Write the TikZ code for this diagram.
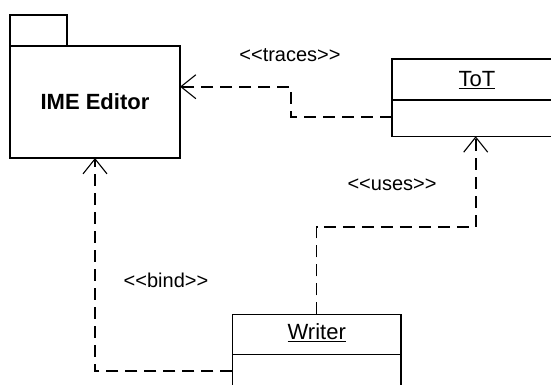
\documentclass[tikz,border=0pt]{standalone}
\usepackage{fontspec}
\setmainfont{Liberation Sans}
\usetikzlibrary{arrows.meta}
\begin{document}
\begin{tikzpicture}[x=1pt,y=-1pt,
  box/.style={draw, line width=1.6pt, inner sep=0pt, outer sep=0pt},
  dep/.style={line width=1.8pt, dash pattern=on 12pt off 7pt, -{Straight Barb[length=15pt,width=24pt,line width=1.1pt]}},
  lbl/.style={font=\fontsize{20}{24}\selectfont, inner sep=0pt},
  cname/.style={font=\fontsize{22}{26}\selectfont, inner sep=0pt}]
\useasboundingbox (0,0) rectangle (551,385);
\clip (0,0) rectangle (551,385);
% IME Editor package
\node[box, minimum width=170pt, minimum height=112pt, anchor=north west,
      font=\fontsize{22}{26}\selectfont\bfseries] (ime) at (10,46) {IME Editor};
\node[box, minimum width=57pt, minimum height=31pt, anchor=south west] (tab) at (ime.north west) {};
% ToT class
\node[box, minimum width=200pt, minimum height=77pt, anchor=north west] (tot) at (391.7,59.3) {};
\draw[line width=1.6pt] ([yshift=-40.7pt]tot.north west) -- ([yshift=-40.7pt]tot.north east);
\node[cname] (totname) at (477,80) {\underline{ToT}};
% Writer class
\node[box, minimum width=168.4pt, minimum height=100pt, anchor=north west] (writer) at (232.3,314.3) {};
\draw[line width=1.6pt] ([yshift=-40pt]writer.north west) -- ([yshift=-40pt]writer.north east);
\node[cname] (wname) at (316.7,333) {\underline{Writer}};
% dependencies
\draw[dep] ([yshift=-19.2pt]tot.west) -| (290.7,86.7) -- ([yshift=15.3pt]ime.east);
\draw[dep] (writer.north) -- ++(0,-87.6) -| ([xshift=84pt]tot.south west);
\draw[dep] ([yshift=-57pt]writer.north west) -| (ime.south);
% labels
\node[lbl] (ltraces) at (290,55) {<{}<traces>{}>};
\node[lbl] (luses) at (392,185) {<{}<uses>{}>};
\node[lbl] (lbind) at (166,280) {<{}<bind>{}>};
\end{tikzpicture}
\end{document}
